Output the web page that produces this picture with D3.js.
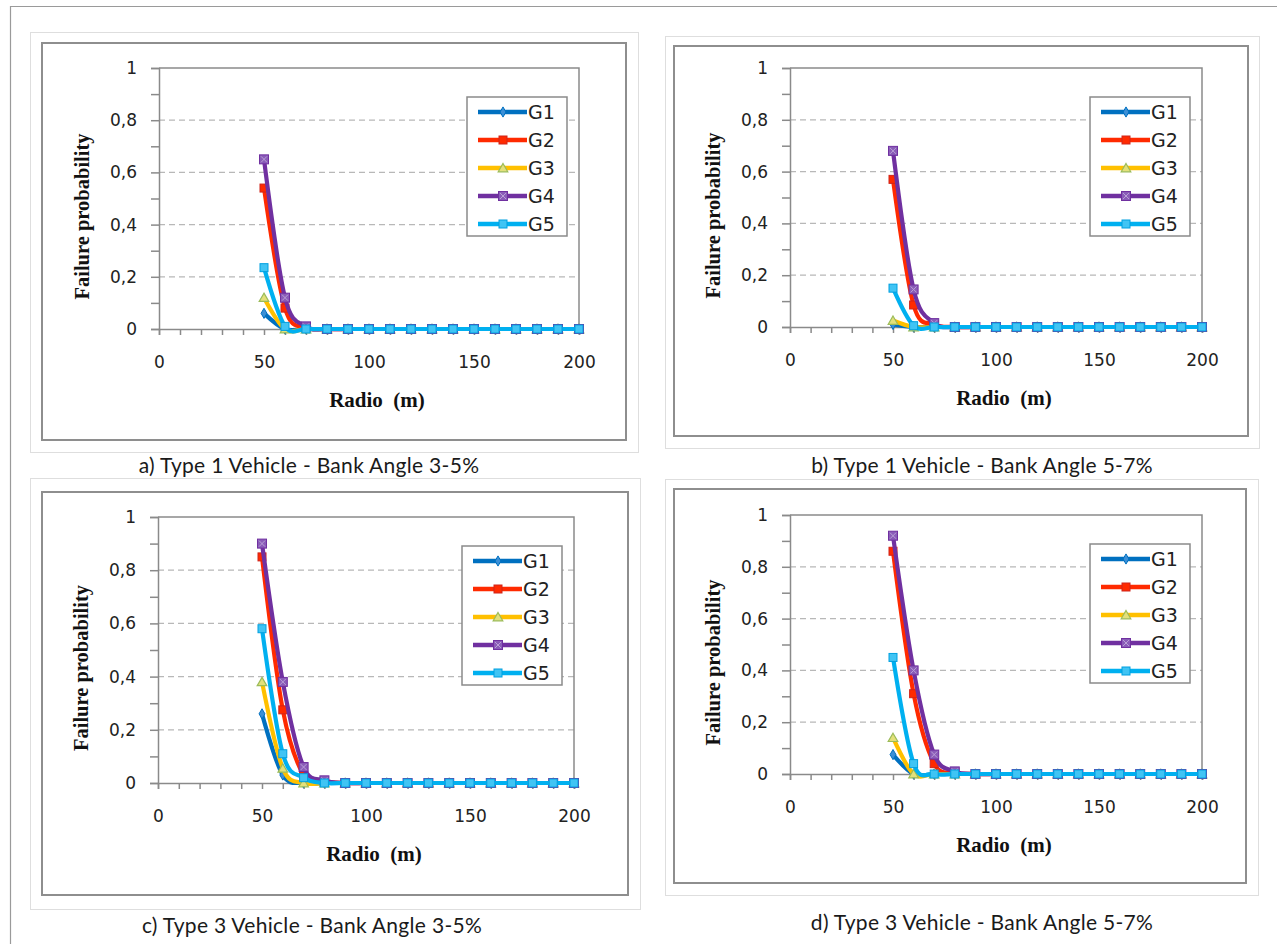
<!DOCTYPE html>
<html>
<head>
<meta charset="utf-8">
<script src="https://cdn.jsdelivr.net/npm/d3@7"></script>
<style>
  body { margin: 0; background: #fff; }
  svg { display: block; }
</style>
</head>
<body>
<svg id="chart" width="1277" height="944"></svg>
<script>
// radio (m) sampled every 10 m
const radio = [50, 60, 70, 80, 90, 100, 110, 120, 130, 140, 150, 160, 170, 180, 190, 200];
const seriesNames = ['G1', 'G2', 'G3', 'G4', 'G5'];
const xTickLabels = [0, 50, 100, 150, 200];
const yTickLabels = [0, 0.2, 0.4, 0.6, 0.8, 1];
const captions = [
  'a) Type 1 Vehicle - Bank Angle 3-5%',
  'b) Type 1 Vehicle - Bank Angle 5-7%',
  'c) Type 3 Vehicle - Bank Angle 3-5%',
  'd) Type 3 Vehicle - Bank Angle 5-7%'
];

// a) type 1, bank 3-5%
const aG1 = [0.06, 0, 0, 0, 0, 0, 0, 0, 0, 0, 0, 0, 0, 0, 0, 0];
const aG2 = [0.54, 0.08, 0.005, 0, 0, 0, 0, 0, 0, 0, 0, 0, 0, 0, 0, 0];
const aG3 = [0.12, 0, 0, 0, 0, 0, 0, 0, 0, 0, 0, 0, 0, 0, 0, 0];
const aG4 = [0.65, 0.12, 0.01, 0, 0, 0, 0, 0, 0, 0, 0, 0, 0, 0, 0, 0];
const aG5 = [0.235, 0.01, 0, 0, 0, 0, 0, 0, 0, 0, 0, 0, 0, 0, 0, 0];
// b) type 1, bank 5-7%
const bG1 = [0.01, 0, 0, 0, 0, 0, 0, 0, 0, 0, 0, 0, 0, 0, 0, 0];
const bG2 = [0.57, 0.085, 0.01, 0, 0, 0, 0, 0, 0, 0, 0, 0, 0, 0, 0, 0];
const bG3 = [0.025, 0, 0, 0, 0, 0, 0, 0, 0, 0, 0, 0, 0, 0, 0, 0];
const bG4 = [0.68, 0.145, 0.015, 0, 0, 0, 0, 0, 0, 0, 0, 0, 0, 0, 0, 0];
const bG5 = [0.15, 0.005, 0, 0, 0, 0, 0, 0, 0, 0, 0, 0, 0, 0, 0, 0];
// c) type 3, bank 3-5%
const cG1 = [0.26, 0.03, 0, 0, 0, 0, 0, 0, 0, 0, 0, 0, 0, 0, 0, 0];
const cG2 = [0.85, 0.275, 0.03, 0.005, 0, 0, 0, 0, 0, 0, 0, 0, 0, 0, 0, 0];
const cG3 = [0.38, 0.055, 0, 0, 0, 0, 0, 0, 0, 0, 0, 0, 0, 0, 0, 0];
const cG4 = [0.90, 0.38, 0.06, 0.01, 0, 0, 0, 0, 0, 0, 0, 0, 0, 0, 0, 0];
const cG5 = [0.58, 0.11, 0.02, 0, 0, 0, 0, 0, 0, 0, 0, 0, 0, 0, 0, 0];
// d) type 3, bank 5-7%
const dG1 = [0.075, 0, 0, 0, 0, 0, 0, 0, 0, 0, 0, 0, 0, 0, 0, 0];
const dG2 = [0.86, 0.31, 0.04, 0.005, 0, 0, 0, 0, 0, 0, 0, 0, 0, 0, 0, 0];
const dG3 = [0.14, 0, 0, 0, 0, 0, 0, 0, 0, 0, 0, 0, 0, 0, 0, 0];
const dG4 = [0.92, 0.40, 0.075, 0.01, 0, 0, 0, 0, 0, 0, 0, 0, 0, 0, 0, 0];
const dG5 = [0.45, 0.04, 0, 0, 0, 0, 0, 0, 0, 0, 0, 0, 0, 0, 0, 0];

const colors = ['#0070c0', '#ff2a00', '#ffc000', '#7030a0', '#00b0f0'];

// frame boxes, plot boxes and caption spots for each panel
const panels = [
  {series: [aG1, aG2, aG3, aG4, aG5], outer: [30, 32, 608, 420], inner: [42, 43, 584, 397],
    plot: [159, 579, 68, 329], cap: [309, 466]},
  {series: [bG1, bG2, bG3, bG4, bG5], outer: [665, 36, 594, 412], inner: [674, 46, 574, 390],
    plot: [790, 1202, 68, 327], cap: [982, 466]},
  {series: [cG1, cG2, cG3, cG4, cG5], outer: [30, 478, 610, 431], inner: [42, 492, 586, 403],
    plot: [158, 574, 517, 783], cap: [312, 926]},
  {series: [dG1, dG2, dG3, dG4, dG5], outer: [665, 479, 593, 416], inner: [674, 489, 572, 394],
    plot: [790, 1202, 515, 774], cap: [982, 923]}
];

const svg = d3.select('#chart');
const locale = d3.formatLocale({decimal: ',', thousands: '.', grouping: [3], currency: ['', '']});
const fmt = locale.format('~g');

// page border (top and left only)
svg.append('path')
  .attr('d', 'M1277,6.5H10.5V944')
  .attr('fill', 'none')
  .attr('stroke', '#9a9a9a')
  .attr('stroke-width', 1.2);

function drawMarker(g, i, x, y) {
  const c = colors[i];
  if (i === 0) {
    g.append('path').attr('d', d3.symbol(d3.symbolDiamond, 30)())
      .attr('transform', `translate(${x},${y})`)
      .attr('fill', '#3b8fd6').attr('stroke', c).attr('stroke-width', 1);
  } else if (i === 1) {
    g.append('rect').attr('x', x - 4).attr('y', y - 4).attr('width', 8).attr('height', 8)
      .attr('fill', '#ff2a00').attr('stroke', '#d0241a').attr('stroke-width', 1);
  } else if (i === 2) {
    g.append('path').attr('d', d3.symbol(d3.symbolTriangle, 40)())
      .attr('transform', `translate(${x},${y + 1})`)
      .attr('fill', '#e3e07a').attr('stroke', '#9bbb59').attr('stroke-width', 1.2);
  } else if (i === 3) {
    g.append('rect').attr('x', x - 4.5).attr('y', y - 4.5).attr('width', 9).attr('height', 9)
      .attr('fill', '#8a5cb8').attr('stroke', '#7030a0').attr('stroke-width', 1);
    g.append('path').attr('d', `M${x - 3},${y - 3}L${x + 3},${y + 3}M${x + 3},${y - 3}L${x - 3},${y + 3}`)
      .attr('stroke', '#b9a0d6').attr('stroke-width', 1);
  } else {
    g.append('rect').attr('x', x - 4).attr('y', y - 4).attr('width', 8).attr('height', 8)
      .attr('fill', '#40c4f4').attr('stroke', '#00a0e0').attr('stroke-width', 1);
  }
}

panels.forEach((p, k) => {
  const g = svg.append('g');
  const [ox, oy, ow, oh] = p.outer;
  const [ix, iy, iw, ih] = p.inner;
  g.append('rect').attr('x', ox + 0.5).attr('y', oy + 0.5).attr('width', ow).attr('height', oh)
    .attr('fill', '#fff').attr('stroke', '#dedede').attr('stroke-width', 1);
  g.append('rect').attr('x', ix).attr('y', iy).attr('width', iw).attr('height', ih)
    .attr('fill', '#fff').attr('stroke', '#8e8e8e').attr('stroke-width', 2);

  const [x0, x1, yT, yB] = p.plot;
  const x = d3.scaleLinear().domain([0, 200]).range([x0, x1]);
  const y = d3.scaleLinear().domain([0, 1]).range([yB, yT]);

  // dashed grid
  g.append('g').selectAll('line').data([0.2, 0.4, 0.6, 0.8]).join('line')
    .attr('x1', x0).attr('x2', x1)
    .attr('y1', d => y(d)).attr('y2', d => y(d))
    .attr('stroke', '#b8b8b8').attr('stroke-width', 1.2).attr('stroke-dasharray', '6,4');

  // plot area border top/right
  g.append('path')
    .attr('d', `M${x0},${yT}H${x1}V${yB}`)
    .attr('fill', 'none').attr('stroke', '#8a8a8a').attr('stroke-width', 1.5);

  const yAxis = d3.axisLeft(y)
    .tickValues(d3.range(0, 11).map(v => v / 10))
    .tickSize(8).tickPadding(14)
    .tickFormat(d => yTickLabels.some(t => Math.abs(t - d) < 1e-9) ? fmt(d) : '');
  const ya = g.append('g').attr('transform', `translate(${x0},0)`).call(yAxis);

  const xAxis = d3.axisBottom(x)
    .tickValues(d3.range(0, 201, 10))
    .tickSize(6).tickPadding(21)
    .tickFormat(d => xTickLabels.includes(d) ? d : '');
  const xa = g.append('g').attr('transform', `translate(0,${yB})`).call(xAxis);

  [ya, xa].forEach(a => {
    a.select('.domain').attr('stroke', '#8a8a8a').attr('stroke-width', 1.5);
    a.selectAll('.tick line').attr('stroke', '#8a8a8a').attr('stroke-width', 1.5);
    a.selectAll('.tick text')
      .attr('font-family', '"DejaVu Sans", Verdana, sans-serif')
      .attr('font-size', 17).attr('fill', '#222');
  });

  // axis titles
  g.append('text')
    .attr('transform', `translate(${x0 - 77},${(yT + yB) / 2 + 18}) rotate(-90)`)
    .attr('text-anchor', 'middle').attr('dy', '0.35em')
    .attr('font-family', '"Liberation Serif", "Times New Roman", serif')
    .attr('font-weight', 'bold').attr('font-size', 20.5).attr('fill', '#111')
    .text('Failure probability');
  g.append('text')
    .attr('x', (x0 + x1) / 2 + 8).attr('y', yB + 71)
    .attr('text-anchor', 'middle').attr('dy', '0.35em')
    .attr('font-family', '"Liberation Serif", "Times New Roman", serif')
    .attr('font-weight', 'bold').attr('font-size', 21).attr('fill', '#111')
    .style('white-space', 'pre')
    .text('Radio  (m)');

  // series
  const line = d3.line()
    .x((d, i) => x(radio[i]))
    .y(d => y(d))
    .curve(d3.curveCardinal.tension(0));
  p.series.forEach((vals, i) => {
    const sg = g.append('g');
    sg.append('path').datum(vals)
      .attr('d', line)
      .attr('fill', 'none').attr('stroke', colors[i]).attr('stroke-width', 4.2)
      .attr('stroke-linejoin', 'round');
    vals.forEach((v, j) => drawMarker(sg, i, x(radio[j]), y(v)));
  });

  // legend
  const lw = 100, lh = 139;
  const lx = x1 - 12 - lw, ly = yT + 29;
  const lg = g.append('g');
  lg.append('rect').attr('x', lx).attr('y', ly).attr('width', lw).attr('height', lh)
    .attr('fill', '#fff').attr('stroke', '#8a8a8a').attr('stroke-width', 1.5);
  seriesNames.forEach((name, i) => {
    const ry = ly + 15 + i * 28;
    lg.append('line').attr('x1', lx + 11).attr('x2', lx + 60).attr('y1', ry).attr('y2', ry)
      .attr('stroke', colors[i]).attr('stroke-width', 4.5);
    drawMarker(lg, i, lx + 36, ry);
    lg.append('text').attr('x', lx + 61).attr('y', ry).attr('dy', '0.36em')
      .attr('font-family', '"DejaVu Sans", Verdana, sans-serif')
      .attr('font-size', 19).attr('fill', '#222')
      .text(name);
  });

  // caption under the panel
  svg.append('text')
    .attr('x', p.cap[0]).attr('y', p.cap[1]).attr('dy', '0.35em')
    .attr('text-anchor', 'middle')
    .attr('font-family', 'Lato, "Open Sans", sans-serif')
    .attr('font-size', 21).attr('letter-spacing', 0.3).attr('fill', '#1a1a1a')
    .text(captions[k]);
});
</script>
</body>
</html>
